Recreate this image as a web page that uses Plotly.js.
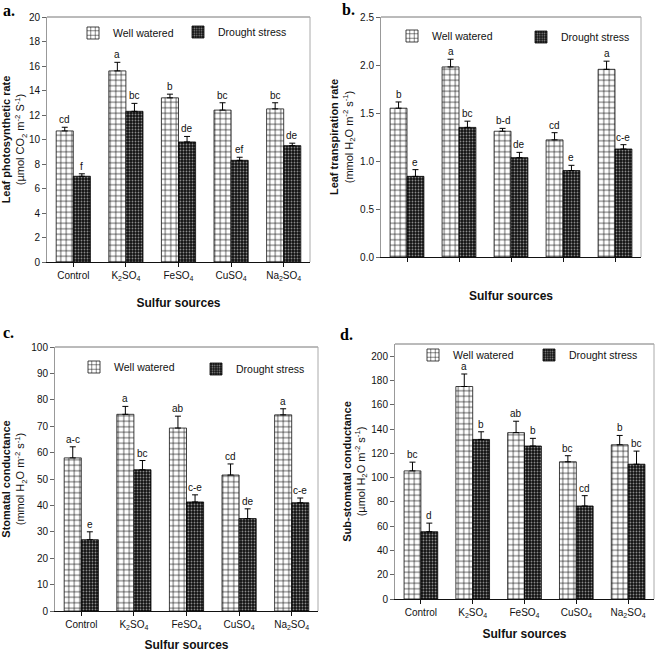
<!DOCTYPE html>
<html>
<head>
<meta charset="utf-8">
<script src="https://cdn.plot.ly/plotly-3.0.1.min.js"></script>
<style>html,body{margin:0;padding:0;background:#fff;}#chart{width:658px;height:652px;}</style>
</head>
<body>
<div id="chart"></div>
<script>
// ---------- data ----------
const categories = ['Control', 'K<sub>2</sub>SO<sub>4</sub>', 'FeSO<sub>4</sub>', 'CuSO<sub>4</sub>', 'Na<sub>2</sub>SO<sub>4</sub>'];
const seriesNames = ['Well watered', 'Drought stress'];

// a. Leaf photosynthetic rate
const photoWW = [10.7, 15.6, 13.4, 12.4, 12.5];
const photoWWErr = [0.3, 0.7, 0.3, 0.6, 0.5];
const photoDS = [7.0, 12.3, 9.8, 8.3, 9.5];
const photoDSErr = [0.2, 0.65, 0.45, 0.25, 0.2];
const photoWWLetters = ['cd', 'a', 'b', 'bc', 'bc'];
const photoDSLetters = ['f', 'bc', 'de', 'ef', 'de'];

// b. Leaf transpiration rate
const transWW = [1.55, 1.98, 1.31, 1.22, 1.955];
const transWWErr = [0.065, 0.08, 0.03, 0.075, 0.085];
const transDS = [0.84, 1.35, 1.035, 0.90, 1.125];
const transDSErr = [0.07, 0.065, 0.055, 0.055, 0.045];
const transWWLetters = ['b', 'a', 'b-d', 'cd', 'a'];
const transDSLetters = ['e', 'bc', 'de', 'e', 'c-e'];

// c. Stomatal conductance
const stomWW = [58, 74.5, 69.3, 51.5, 74.3];
const stomWWErr = [4.2, 3.0, 4.5, 4.2, 2.3];
const stomDS = [27, 53.5, 41.3, 35, 41];
const stomDSErr = [3.0, 3.5, 2.7, 3.7, 1.8];
const stomWWLetters = ['a-c', 'a', 'ab', 'cd', 'a'];
const stomDSLetters = ['e', 'bc', 'c-e', 'de', 'c-e'];

// d. Sub-stomatal conductance
const subWW = [105.5, 175, 137, 113, 127];
const subWWErr = [7.2, 10.3, 9.4, 5.0, 7.7];
const subDS = [55.4, 131.4, 126, 76.6, 111];
const subDSErr = [7.1, 6.3, 6.3, 8.5, 10.8];
const subWWLetters = ['bc', 'a', 'ab', 'bc', 'b'];
const subDSLetters = ['d', 'b', 'b', 'cd', 'bc'];

const panelLabels = ['a.', 'b.', 'c.', 'd.'];
const yTitles = [
  '<b>Leaf photosynthetic rate</b><br>(µmol CO<sub>2</sub> m<sup>-2</sup> S<sup>-1</sup>)',
  '<b>Leaf transpiration rate</b><br>(mmol H<sub>2</sub>O m<sup>-2</sup> s<sup>-1</sup>)',
  '<b>Stomatal conductance</b><br>(mmol H<sub>2</sub>O m<sup>-2</sup> s<sup>-1</sup>)',
  '<b>Sub-stomatal conductance</b><br>(µmol H<sub>2</sub>O m<sup>-2</sup> s<sup>-1</sup>)'
];
const xTitle = '<b>Sulfur sources</b>';

// ---------- layout geometry ----------
const W = 658, H = 652;
const SANS = '"Liberation Sans", Arial, sans-serif';
const SERIF = '"Liberation Serif", "Times New Roman", serif';
const BARGAP = 0.35;

const panels = [
  {ww: photoWW, wwErr: photoWWErr, ds: photoDS, dsErr: photoDSErr, wwL: photoWWLetters, dsL: photoDSLetters,
   box: [47, 310, 17, 262], yr: [0, 20], dtick: 2, fmt: '', ytStand: 10, xtStand: 17,
   leg: [[73, 33], [178, 32]], label: [1, 0, 'top']},
  {ww: transWW, wwErr: transWWErr, ds: transDS, dsErr: transDSErr, wwL: transWWLetters, dsL: transDSLetters,
   box: [381, 641, 17, 257], yr: [0, 2.5], dtick: 0.5, fmt: '.1f', ytStand: 4, xtStand: 30,
   leg: [[392, 36], [521, 37]], label: [340, 20, 'bottom']},
  {ww: stomWW, wwErr: stomWWErr, ds: stomDS, dsErr: stomDSErr, wwL: stomWWLetters, dsL: stomDSLetters,
   box: [55, 318, 347, 611], yr: [0, 100], dtick: 10, fmt: '', ytStand: 9, xtStand: 22,
   leg: [[74, 367], [196, 369]], label: [1, 343, 'bottom']},
  {ww: subWW, wwErr: subWWErr, ds: subDS, dsErr: subDSErr, wwL: subWWLetters, dsL: subDSLetters,
   box: [395, 654, 344, 599], yr: [0, 210], dtick: 20, fmt: '', ytStand: 3, xtStand: 11,
   leg: [[413, 355], [529, 355]], label: [338, 345, 'bottom']}
];

const wwMarker = {color: '#ffffff', line: {color: '#111', width: 0.8},
  pattern: {shape: '+', fgcolor: '#111', bgcolor: '#ffffff', size: 5.5, solidity: 0.22}};
const dsMarker = {color: '#111111', line: {color: '#000', width: 0.8},
  pattern: {shape: '.', fgcolor: '#8a8a8a', bgcolor: '#111111', size: 3, solidity: 0.3}};

const traces = [];
const layout = {
  width: W, height: H, margin: {l: 0, r: 0, t: 0, b: 0},
  paper_bgcolor: '#fff', plot_bgcolor: '#fff', showlegend: true,
  barmode: 'group', bargap: BARGAP, bargroupgap: 0,
  font: {family: SANS, size: 10, color: '#111'},
  annotations: [], shapes: []
};

panels.forEach((p, i) => {
  const n = i + 1;
  const xa = n === 1 ? 'x' : 'x' + n;
  const ya = n === 1 ? 'y' : 'y' + n;
  const xk = n === 1 ? 'xaxis' : 'xaxis' + n;
  const yk = n === 1 ? 'yaxis' : 'yaxis' + n;
  const [x0, x1, y0, y1] = p.box;
  const zeros = p.ww.map(() => 0);
  const errStyle = {type: 'data', symmetric: false, color: '#000', thickness: 1, width: 3};
  const legA = i === 0 ? 'legend' : 'legend' + (2 * i + 1);
  const legB = 'legend' + (2 * i + 2);

  traces.push({type: 'bar', name: seriesNames[0], x: categories, y: p.ww, xaxis: xa, yaxis: ya,
    marker: wwMarker, error_y: Object.assign({array: p.wwErr, arrayminus: zeros}, errStyle),
    legend: legA, showlegend: true, hoverinfo: 'y'});
  traces.push({type: 'bar', name: seriesNames[1], x: categories, y: p.ds, xaxis: xa, yaxis: ya,
    marker: dsMarker, error_y: Object.assign({array: p.dsErr, arrayminus: zeros}, errStyle),
    legend: legB, showlegend: true, hoverinfo: 'y'});

  layout[xk] = {
    domain: [x0 / W, x1 / W], anchor: ya, type: 'category', automargin: false,
    showline: true, linecolor: '#111', linewidth: 1, ticks: 'outside', ticklen: 4, tickcolor: '#111',
    showgrid: false, zeroline: false, tickfont: {family: SANS, size: 10, color: '#111'},
    title: {text: xTitle, font: {family: SANS, size: 12, color: '#111'}, standoff: p.xtStand}
  };
  layout[yk] = {
    domain: [1 - y1 / H, 1 - y0 / H], anchor: xa, range: p.yr, dtick: p.dtick, tick0: 0,
    tickformat: p.fmt, automargin: false,
    showline: true, linecolor: '#999', linewidth: 1, ticks: 'outside', ticklen: 4, tickcolor: '#666',
    showgrid: false, zeroline: false, tickfont: {family: SANS, size: 10, color: '#111'},
    title: {text: yTitles[i], font: {family: SANS, size: 11, color: '#111'}, standoff: p.ytStand}
  };

  // grey frame (top, right)
  layout.shapes.push({type: 'line', xref: xa + ' domain', yref: ya + ' domain', x0: 0, x1: 1, y0: 1, y1: 1,
    line: {color: '#777', width: 1}});
  layout.shapes.push({type: 'line', xref: xa + ' domain', yref: ya + ' domain', x0: 1, x1: 1, y0: 0, y1: 1,
    line: {color: '#aaa', width: 1}});

  // significance letters
  const shift = (x1 - x0) / categories.length * (1 - BARGAP) / 4;
  categories.forEach((c, k) => {
    layout.annotations.push({xref: xa, yref: ya, x: c, y: p.ww[k] + p.wwErr[k], xshift: -shift, yshift: 0,
      text: p.wwL[k], showarrow: false, yanchor: 'bottom', font: {family: SANS, size: 10, color: '#111'}});
    layout.annotations.push({xref: xa, yref: ya, x: c, y: p.ds[k] + p.dsErr[k], xshift: shift, yshift: 0,
      text: p.dsL[k], showarrow: false, yanchor: 'bottom', font: {family: SANS, size: 10, color: '#111'}});
  });

  // panel label
  layout.annotations.push({xref: 'paper', yref: 'paper', x: p.label[0] / W, y: 1 - p.label[1] / H,
    xanchor: 'left', yanchor: p.label[2], showarrow: false, text: '<b>' + panelLabels[i] + '</b>',
    font: {family: SERIF, size: 16, color: '#000'}});

  // legends
  [[legA, p.leg[0]], [legB, p.leg[1]]].forEach(([key, pos]) => {
    layout[key] = {x: pos[0] / W, y: 1 - pos[1] / H, xanchor: 'left', yanchor: 'middle',
      bgcolor: 'rgba(0,0,0,0)', borderwidth: 0, itemwidth: 30, tracegroupgap: 0,
      font: {family: SANS, size: 10.5, color: '#111'}};
  });
});

// Panel b: tick labels in the original sit offset from the bar groups
layout.xaxis2.showticklabels = false;
layout.xaxis5 = {
  overlaying: 'x2', anchor: 'y2', domain: layout.xaxis2.domain, type: 'linear',
  range: [-0.88, 4.9], tickvals: categories.map((_, k) => k), ticktext: categories,
  showline: false, ticks: '', showgrid: false, zeroline: false, automargin: false,
  tickfont: {family: SANS, size: 10, color: '#111'}
};

Plotly.newPlot('chart', traces, layout, {displayModeBar: false, staticPlot: true});
</script>
</body>
</html>
